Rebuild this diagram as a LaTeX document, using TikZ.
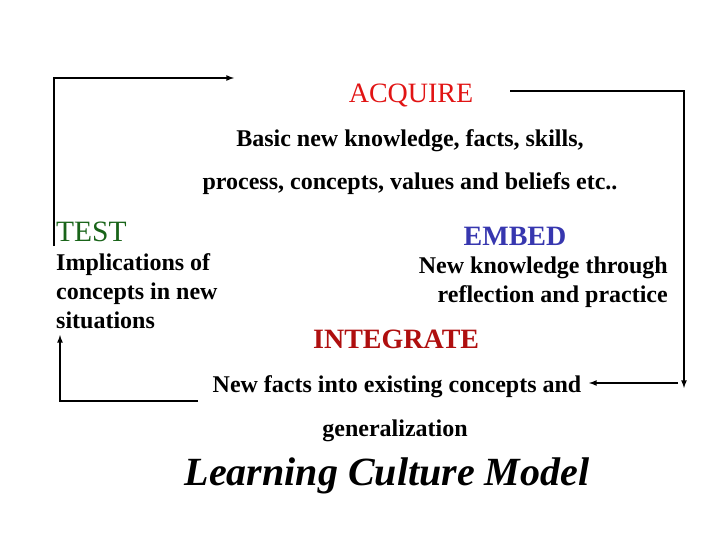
\documentclass[tikz,border=0pt]{standalone}
\usepackage{fontspec}
\setmainfont{Liberation Serif}
\definecolor{acqred}{RGB}{225,20,20}
\definecolor{intred}{RGB}{175,15,15}
\definecolor{testgreen}{RGB}{25,100,25}
\definecolor{embblue}{RGB}{55,55,175}
\tikzset{
  head/.style={inner sep=0pt,font=\fontsize{28}{32}\selectfont},
  boldhead/.style={inner sep=0pt,font=\bfseries\fontsize{28}{32}\selectfont},
  txt/.style={inner sep=0pt,font=\bfseries\fontsize{24}{29}\selectfont},
  loop/.style={-latex,line width=1.6pt},
}
\begin{document}
\begin{tikzpicture}[x=1pt,y=-1pt]
                \useasboundingbox (0,0) rectangle (720,540);
                \node [head,acqred,anchor=base] (acquire) at (411,103) {ACQUIRE};
                \node [txt,anchor=base] (acqtext1) at (410,147) {Basic new knowledge, facts, skills,};
                \node [txt,anchor=base] (acqtext2) at (410,190) {process, concepts, values and beliefs etc..};
                \node [head,testgreen,font=\fontsize{29.5}{32}\selectfont,anchor=base west] (test) at (56,241) {TEST};
                \node [txt,anchor=north west,align=left] (testtext) at (56,253.5) {Implications of\\concepts in new\\situations};
                \node [boldhead,embblue,anchor=base] (embed) at (515,245) {EMBED};
                \node [txt,anchor=north east,align=right] (embtext) at (668,256.5) {New knowledge through\\reflection and practice};
                \node [boldhead,intred,anchor=base west] (integrate) at (313,348) {INTEGRATE};
                \node [txt,anchor=base] (inttext1) at (397,392) {New facts into existing concepts and};
                \node [txt,anchor=base] (inttext2) at (395,436) {generalization};
                \node [inner sep=0pt,font=\bfseries\itshape\fontsize{40}{44}\selectfont,anchor=base] (title) at (387,485) {Learning Culture Model};
                \coordinate (c1) at (54,246);
                \coordinate (c2) at (234,78);
                \coordinate (c3) at (510,91);
                \coordinate (c4) at (684,388);
                \coordinate (c5) at (678,383);
                \coordinate (c6) at (589,383);
                \coordinate (c7) at (198,401);
                \coordinate (c8) at (60,335);
                \draw [loop] (c1) |- (c2);
                \draw [loop] (c3) -| (c4);
                \draw [loop] (c5) -- (c6);
                \draw [loop] (c7) -| (c8);
            \end{tikzpicture}
\end{document}
